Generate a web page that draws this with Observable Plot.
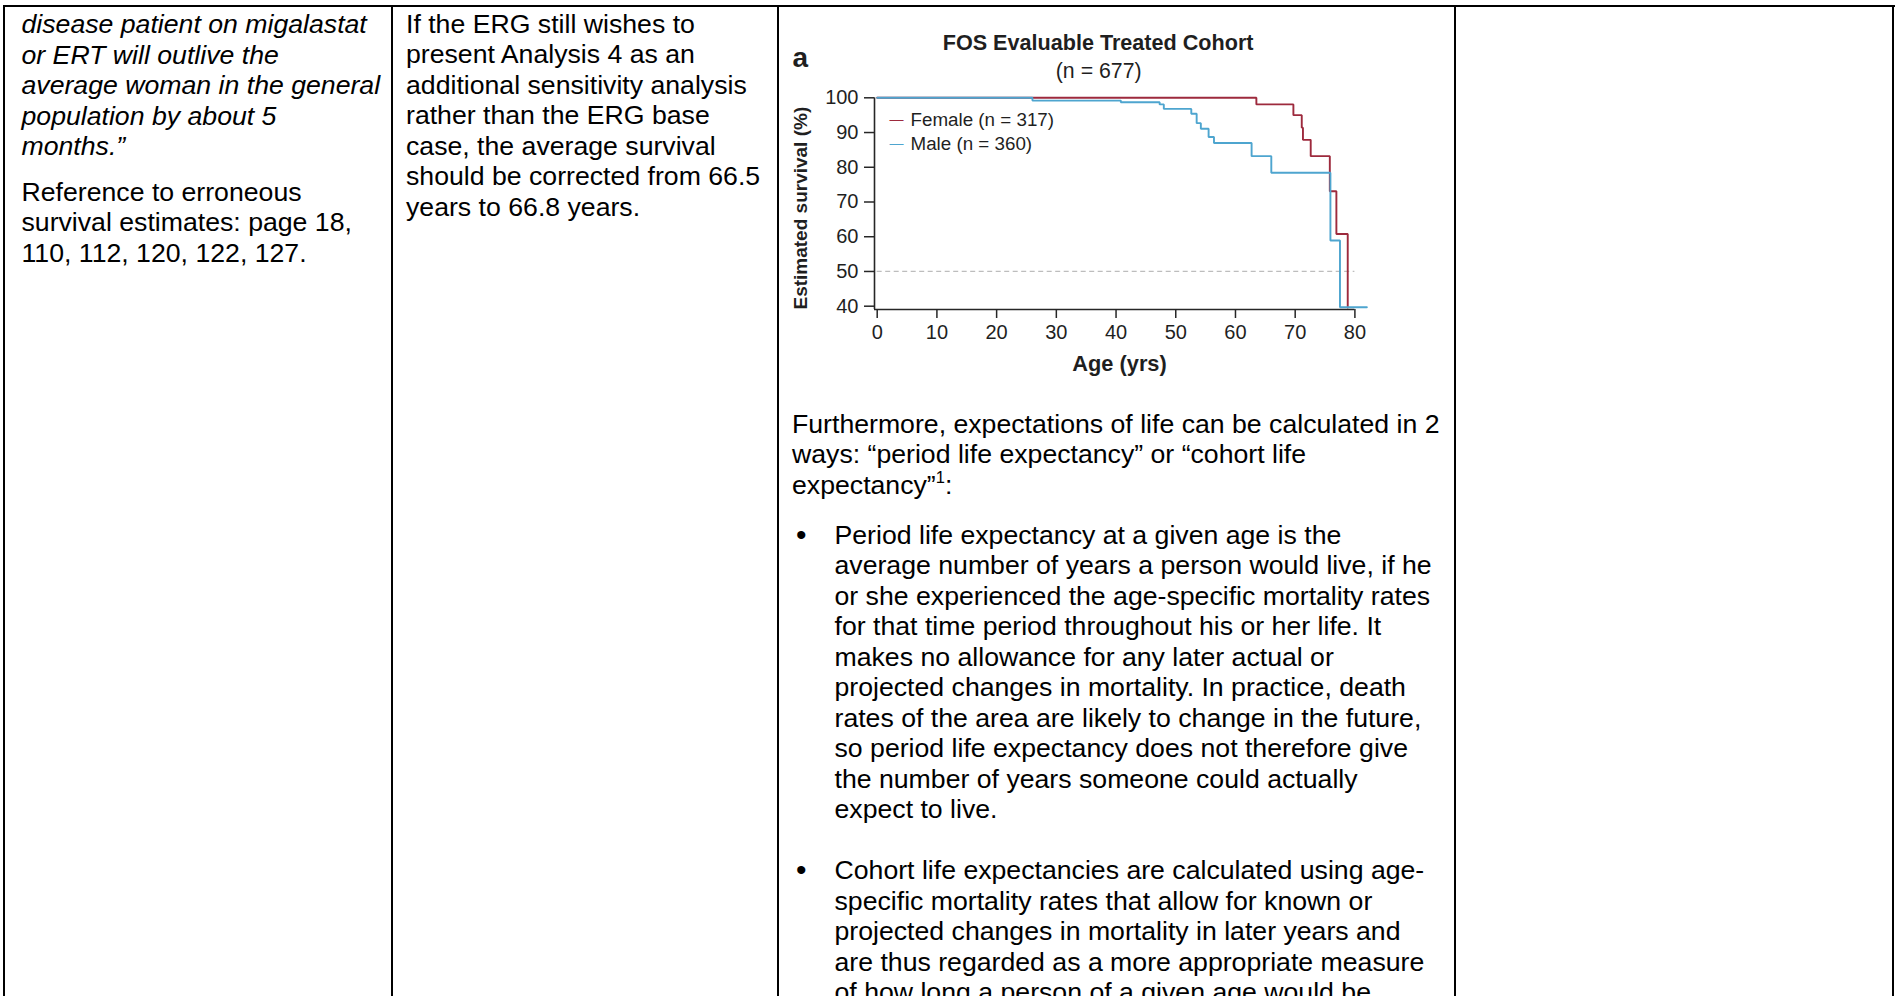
<!DOCTYPE html>
<html>
<head>
<meta charset="utf-8">
<script src="https://cdn.jsdelivr.net/npm/d3@7"></script>
<script src="https://cdn.jsdelivr.net/npm/@observablehq/plot@0.6"></script>
<style>
html, body { margin: 0; padding: 0; background: #fff; }
#page { position: relative; width: 1895px; height: 996px; overflow: hidden;
  font-family: "Liberation Sans", Arial, sans-serif; font-size: 26.67px; line-height: 30.5px; color: #000; }
.rule { position: absolute; background: #000; }
.col { position: absolute; white-space: nowrap; }
.col p { margin: 0; }
.it { font-style: italic; }
.bul { position: relative; padding-left: 42.5px; }
.bul::before { content: "\2022"; position: absolute; left: 4px; top: 0; font-size: 30px; }
sup { font-size: 0.62em; line-height: 0; vertical-align: 0.65em; }
#chart { position: absolute; left: 781px; top: 8px; }
</style>
</head>
<body>
<div id="page">
  <div class="rule" style="left:3px;top:5px;width:1892px;height:2px"></div>
  <div class="rule" style="left:3px;top:5px;width:2px;height:991px"></div>
  <div class="rule" style="left:391px;top:5px;width:2px;height:991px"></div>
  <div class="rule" style="left:777px;top:5px;width:2px;height:991px"></div>
  <div class="rule" style="left:1454px;top:5px;width:2px;height:991px"></div>
  <div class="rule" style="left:1892px;top:5px;width:2px;height:991px"></div>

  <div class="col" style="left:21.5px;top:9px">
    <p class="it" style="margin-bottom:15px">disease patient on migalastat<br>or ERT will outlive the<br>average woman in the general<br>population by about 5<br>months.”</p>
    <p>Reference to erroneous<br>survival estimates: page 18,<br>110, 112, 120, 122, 127.</p>
  </div>

  <div class="col" style="left:406px;top:8.5px">
    <p>If the ERG still wishes to<br>present Analysis 4 as an<br>additional sensitivity analysis<br>rather than the ERG base<br>case, the average survival<br>should be corrected from 66.5<br>years to 66.8 years.</p>
  </div>

  <div class="col" style="left:792px;top:408.5px">
    <p style="margin-bottom:19.5px">Furthermore, expectations of life can be calculated in 2<br>ways: “period life expectancy” or “cohort life<br>expectancy”<sup>1</sup>:</p>
    <p class="bul" style="margin-bottom:30.5px">Period life expectancy at a given age is the<br>average number of years a person would live, if he<br>or she experienced the age-specific mortality rates<br>for that time period throughout his or her life. It<br>makes no allowance for any later actual or<br>projected changes in mortality. In practice, death<br>rates of the area are likely to change in the future,<br>so period life expectancy does not therefore give<br>the number of years someone could actually<br>expect to live.</p>
    <p class="bul">Cohort life expectancies are calculated using age-<br>specific mortality rates that allow for known or<br>projected changes in mortality in later years and<br>are thus regarded as a more appropriate measure<br>of how long a person of a given age would be</p>
  </div>

  <div id="chart"></div>
</div>

<script>
const sexes = ["Female", "Male"];
const sexLabels = ["Female (n = 317)", "Male (n = 360)"];
const sexColors = ["#9d2a3d", "#4ea5cf"];

const femaleAge = [0, 63.5, 69.7, 71.1, 71.3, 72.6, 75.8, 76.9, 78.8];
const femaleSurvival = [100, 98.1, 95.0, 91.4, 87.9, 83.2, 73.1, 60.8, 39.6];

const maleAge = [0, 26.0, 40.8, 47.3, 48.0, 52.6, 53.5, 54.2, 55.5, 56.4, 62.7, 66.0, 75.9, 77.5, 82.0];
const maleSurvival = [100, 99.2, 98.7, 98.1, 96.8, 95.4, 92.7, 91.1, 88.7, 87.0, 83.2, 78.4, 58.9, 39.7, 39.7];

const ageTicks = [0, 10, 20, 30, 40, 50, 60, 70, 80];
const survivalTicks = [40, 50, 60, 70, 80, 90, 100];
const medianLine = [50];

const chartTitle = "FOS Evaluable Treated Cohort";
const chartSubtitle = "(n = 677)";
const panelLetter = "a";
const xLabel = "Age (yrs)";
const yLabel = "Estimated survival (%)";

// ---- build table for Plot ----
const rows = [
  ...femaleAge.map((a, i) => ({sex: sexes[0], age: a, survival: femaleSurvival[i]})),
  ...maleAge.map((a, i) => ({sex: sexes[1], age: a, survival: maleSurvival[i]}))
];

const axisColor = "#262626";
const textColor = "#1f1f1f";
const font = '"Liberation Sans", Arial, Helvetica, sans-serif';
// axes are offset slightly from the data origin (R-style)
const xFloor = -0.452, yFloor = 39.05;

const marks = [
  Plot.ruleY(medianLine, {x1: 0, x2: 80, stroke: "#bdbdbd", strokeWidth: 1.2, strokeDasharray: "5,3.5"}),
  Plot.line(rows, {x: "age", y: "survival", z: "sex", stroke: "sex", curve: "step-after", strokeWidth: 1.9, strokeLinejoin: "miter"}),
  Plot.ruleX([xFloor], {y1: yFloor, y2: 100, stroke: axisColor, strokeWidth: 1.6}),
  Plot.ruleY([yFloor], {x1: xFloor, x2: 80, stroke: axisColor, strokeWidth: 1.6}),
  Plot.axisX({ticks: ageTicks, tickSize: 9, tickPadding: 6.5, fontSize: 20, label: null, stroke: axisColor, strokeWidth: 1.5, fill: textColor}),
  Plot.axisY({ticks: survivalTicks, tickSize: 10, tickPadding: 6, fontSize: 20, label: null, stroke: axisColor, strokeWidth: 1.5, fill: textColor}),
  Plot.text([chartTitle], {text: d => d, frameAnchor: "top", dx: -16.6, dy: -55, lineAnchor: "middle", fontSize: 21.6, fontWeight: "bold", fill: textColor}),
  Plot.text([chartSubtitle], {text: d => d, frameAnchor: "top", dx: -16, dy: -27, lineAnchor: "middle", fontSize: 21.3, fill: textColor}),
  Plot.text([panelLetter], {text: d => d, frameAnchor: "top-left", textAnchor: "start", dx: -82, dy: -40, lineAnchor: "middle", fontSize: 28, fontWeight: "bold", fill: textColor}),
  Plot.text([xLabel], {text: d => d, frameAnchor: "bottom", dx: 4.8, dy: 54.5, lineAnchor: "middle", fontSize: 21.8, fontWeight: "bold", fill: textColor}),
  Plot.text([yLabel], {text: d => d, frameAnchor: "left", textAnchor: "middle", rotate: -90, dx: -73.4, dy: 4.5, lineAnchor: "middle", fontSize: 19, fontWeight: "bold", fill: textColor})
];

// legend inside the plot area
sexLabels.forEach((label, i) => {
  const dy = 22 + i * 24;
  marks.push(Plot.text(["\u2014"], {text: d => d, frameAnchor: "top-left", textAnchor: "start", dx: 15, dy, lineAnchor: "middle", fontSize: 14, fill: sexColors[i]}));
  marks.push(Plot.text([label], {text: d => d, frameAnchor: "top-left", textAnchor: "start", dx: 36, dy, lineAnchor: "middle", fontSize: 18.8, fill: textColor}));
});

const chart = Plot.plot({
  width: 660,
  height: 380,
  marginLeft: 93,
  marginRight: 86.6,
  marginTop: 89.3,
  marginBottom: 79,
  style: {fontFamily: font, background: "transparent", color: textColor, overflow: "visible"},
  x: {domain: [xFloor, 80]},
  y: {domain: [yFloor, 100]},
  color: {domain: sexes, range: sexColors},
  marks
});
document.getElementById("chart").appendChild(chart);
</script>
</body>
</html>
